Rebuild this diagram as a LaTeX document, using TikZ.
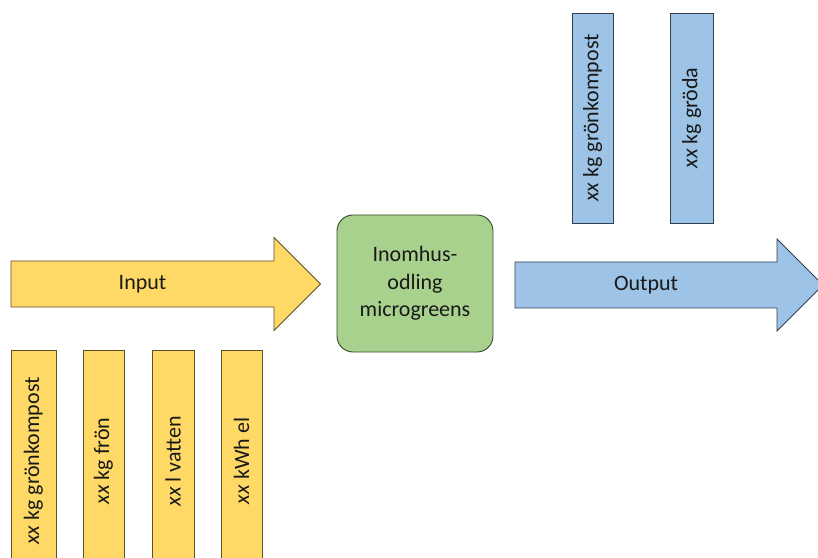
\documentclass[tikz,border=0pt]{standalone}
\usepackage{fontspec}
\setmainfont{Carlito}
\usepackage{color}
\definecolor{myyellow}{RGB}{255,217,102}
\definecolor{myyellowline}{RGB}{95,80,45}
\definecolor{myblue}{RGB}{157,195,230}
\definecolor{myblueline}{RGB}{50,62,82}
\definecolor{mygreen}{RGB}{169,209,142}
\definecolor{mygreenline}{RGB}{50,75,40}
\definecolor{mytext}{RGB}{25,25,25}
\usepackage{tikz}
\usetikzlibrary{positioning}

\begin{document}
\begin{tikzpicture}[
  x=1pt, y=1pt,
  line width=0.9pt,
  every node/.style={text=mytext, font=\fontsize{22}{27.5}\selectfont},
  inarrow/.style={draw=myyellowline, fill=myyellow},
  outarrow/.style={draw=myblueline, fill=myblue},
  inbar/.style={
    draw=myyellowline,
    fill=myyellow,
    rotate=90,
    inner sep=0pt,
    minimum width=222pt,
    minimum height=#1
    },
  outbar/.style={
    draw=myblueline,
    fill=myblue,
    rotate=90,
    inner sep=0pt,
    minimum width=210pt,
    minimum height=#1
    }
]
\useasboundingbox (0,0) rectangle (818,557);

% input arrow
\draw[inarrow] (11,250) -- (11,296) -- (274,296) -- (274,319.5)
  -- (320.5,273) -- (274,226.5) -- (274,250) -- cycle;
\node (input) at (142.5,273) {Input};

% center box
\node[draw=mygreenline, fill=mygreen, rounded corners=16pt,
  minimum width=156pt, minimum height=137pt, align=center, inner sep=0pt]
  (odling) at (415,273.5) {Inomhus-\\odling\\microgreens};

% output arrow
\draw[outarrow] (515,249) -- (515,295) -- (777,295) -- (777,318)
  -- (823,272) -- (777,226) -- (777,249) -- cycle;
\node (output) at (646,272) {Output};

% input bars
\foreach \Xpos/\Wid/\Txt [count=\Txti from 1] in {
  33.5/45/{kg grönkompost},
  103.5/41/{kg frön},
  173/42/{l vatten},
  241.5/41/{kWh el}}
  \node[inbar=\Wid pt] (in\Txti) at (\Xpos,96) {\textit{xx} \Txt};

% output bars
\foreach \Xpos/\Wid/\Txt [count=\Txti from 1] in {
  592.5/41/{kg grönkompost},
  691.5/43/{kg gröda}}
  \node[outbar=\Wid pt] (ut\Txti) at (\Xpos,439) {\textit{xx} \Txt};

\end{tikzpicture}
\end{document}
